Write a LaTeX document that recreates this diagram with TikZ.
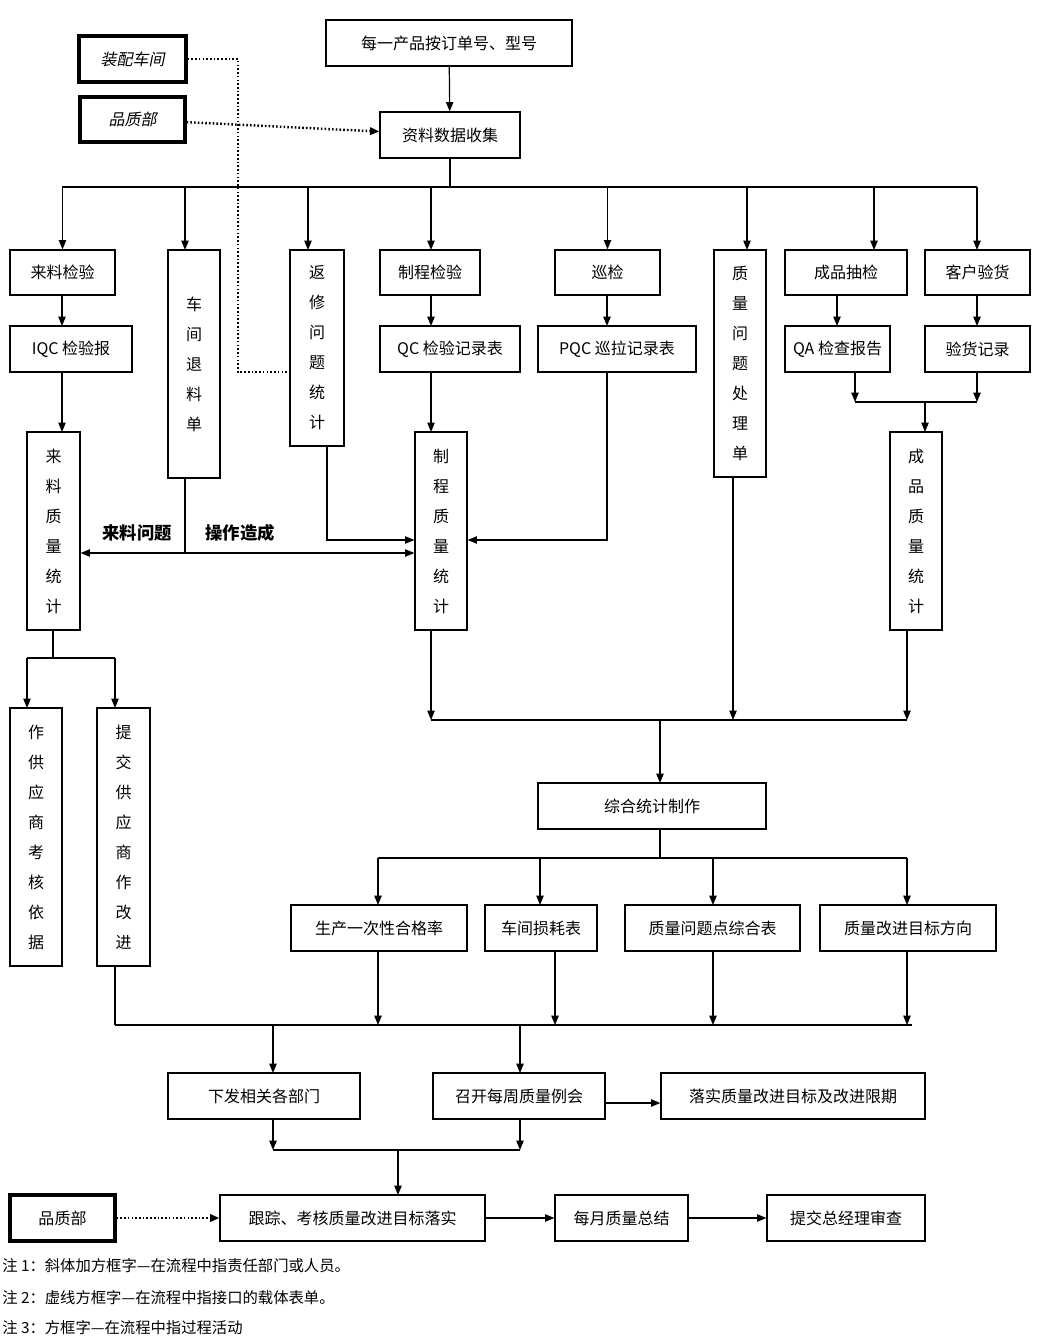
\documentclass[tikz,border=0pt]{standalone}
\usepackage{fontspec}
\setmainfont{Noto Sans CJK SC}
\newfontfamily\cjki[FakeSlant=0.2]{Noto Sans CJK SC}
\usetikzlibrary{arrows.meta}
\newcommand\bx[7][]{\node[box,#1,minimum width={(#5-#3)*0.75pt},minimum height={(#6-#4)*0.75pt}] (#2) at ({(#3+#5)/2},{(#4+#6)/2}) {#7};}
\begin{document}
\begin{tikzpicture}[x=0.75pt,y=-0.75pt,
 box/.style={draw,line width=0.9pt,inner sep=0pt,align=center,font=\fontsize{12}{22.5}\selectfont},
 duty/.style={line width=2.4pt,font=\cjki\fontsize{12}{14}\selectfont},
 arr/.style={line width=0.9pt,-{Triangle[length=7pt,width=5.5pt]}},
 ln/.style={line width=0.9pt},
 dot/.style={line width=1.8pt,dash pattern=on 1.2pt off 1.6pt},
 lbl/.style={font=\bfseries\fontsize{13}{15}\selectfont}]
\useasboundingbox (0,0) rectangle (1041,1337);
\bx{top}{326}{20}{572}{66}{每一产品按订单号、型号}
\bx[duty]{zp}{79}{36}{186}{82}{装配车间}
\bx[duty]{pz1}{80}{97}{185}{142}{品质部}
\bx{col}{380}{112}{520}{158}{资料数据收集}
\bx{ll}{10}{250}{115}{295}{来料检验}
\bx{cj}{168}{250}{220}{478}{车\\间\\退\\料\\单}
\bx{fx}{290}{250}{344}{446}{返\\修\\问\\题\\统\\计}
\bx{zc}{380}{250}{480}{295}{制程检验}
\bx{xj}{555}{250}{660}{295}{巡检}
\bx{zl}{714}{250}{766}{477}{质\\量\\问\\题\\处\\理\\单}
\bx{cp}{785}{250}{907}{295}{成品抽检}
\bx{kh}{925}{250}{1030}{295}{客户验货}
\bx{iqc}{10}{326}{132}{372}{IQC 检验报}
\bx{qc}{380}{326}{520}{372}{QC 检验记录表}
\bx{pqc}{538}{326}{696}{372}{PQC 巡拉记录表}
\bx{qa}{785}{326}{890}{372}{QA 检查报告}
\bx{yh}{925}{326}{1030}{372}{验货记录}
\bx{lltj}{27}{432}{80}{630}{来\\料\\质\\量\\统\\计}
\bx{zctj}{415}{432}{467}{630}{制\\程\\质\\量\\统\\计}
\bx{cptj}{890}{432}{942}{630}{成\\品\\质\\量\\统\\计}
\bx{gys}{10}{708}{62}{966}{作\\供\\应\\商\\考\\核\\依\\据}
\bx{tj}{97}{708}{150}{966}{提\\交\\供\\应\\商\\作\\改\\进}
\bx{zh}{538}{783}{766}{829}{综合统计制作}
\bx{sc}{291}{905}{467}{951}{生产一次性合格率}
\bx{sh}{485}{905}{597}{951}{车间损耗表}
\bx{wt}{625}{905}{800}{951}{质量问题点综合表}
\bx{mb}{820}{905}{996}{951}{质量改进目标方向}
\bx{xf}{168}{1073}{360}{1119}{下发相关各部门}
\bx{zk}{433}{1073}{605}{1119}{召开每周质量例会}
\bx{ls}{661}{1073}{925}{1119}{落实质量改进目标及改进限期}
\bx[duty,font=\fontsize{12}{14}\selectfont]{pz2}{10}{1195}{115}{1241}{品质部}
\bx{gz}{220}{1195}{485}{1241}{跟踪、考核质量改进目标落实}
\bx{yd}{555}{1195}{688}{1241}{每月质量总结}
\bx{zj}{767}{1195}{925}{1241}{提交总经理审查}
% top
\draw[arr] (top) -- (col);
\draw[dot,-{Triangle[length=7pt,width=5.5pt]}] (pz1) -- (col);
\draw[dot] (zp.east) -| (238,372) -- (fx.west |- 0,372);
\coordinate (b1) at (0,187);
\draw[ln] (col) -- (col |- b1);
\draw[ln] (62,187) -- (977,187);
\draw[arr] (ll.north |- b1) -- (ll);
\draw[arr] (185,187) -- (185,250);
\draw[arr] (308,187) -- (308,250);
\draw[arr] (431,187) -- (431,250);
\draw[arr] (xj.north |- b1) -- (xj);
\draw[arr] (747,187) -- (747,250);
\draw[arr] (874,187) -- (874,250);
\draw[arr] (977,187) -- (977,250);
\draw[arr] (62,295) -- (62,326);
\draw[arr] (431,295) -- (431,326);
\draw[arr] (607,295) -- (607,326);
\draw[arr] (837,295) -- (837,326);
\draw[arr] (977,295) -- (977,326);
\draw[arr] (62,372) -- (62,432);
\draw[arr] (431,372) -- (431,432);
\draw[arr] (855,372) -- (855,402);
\draw[arr] (977,372) -- (977,402);
\draw[ln] (855,402) -- (977,402);
\draw[arr] (925,402) -- (925,432);
% middle
\draw[ln] (185,478) -- (185,553);
\draw[line width=0.9pt,{Triangle[length=7pt,width=5.5pt]}-{Triangle[length=7pt,width=5.5pt]}] (lltj.east |- 0,553) -- (zctj.west |- 0,553);
\node[lbl] (l1) at (137,533) {来料问题};
\node[lbl] (l2) at (240,533) {操作造成};
\draw[arr] (327,446) |- (zctj.west |- 0,540);
\draw[arr] (607,372) |- (zctj.east |- 0,540);
% left bottom
\draw[ln] (53,630) -- (53,658);
\draw[ln] (27,658) -- (115,658);
\draw[arr] (27,658) -- (27,708);
\draw[arr] (115,658) -- (115,708);
% join
\draw[arr] (431,630) -- (431,720);
\draw[arr] (733,477) -- (733,720);
\draw[arr] (907,630) -- (907,720);
\draw[ln] (431,720) -- (907,720);
\draw[arr] (660,720) -- (660,783);
\draw[ln] (660,829) -- (660,858);
\draw[ln] (378,858) -- (907,858);
\draw[arr] (378,858) -- (378,905);
\draw[arr] (540,858) -- (540,905);
\draw[arr] (713,858) -- (713,905);
\draw[arr] (907,858) -- (907,905);
\draw[ln] (115,1025) -- (912,1025);
\draw[ln] (115,966) -- (115,1025);
\draw[arr] (378,951) -- (378,1025);
\draw[arr] (555,951) -- (555,1025);
\draw[arr] (713,951) -- (713,1025);
\draw[arr] (907,951) -- (907,1025);
\draw[arr] (273,1025) -- (273,1073);
\draw[arr] (520,1025) -- (520,1073);
\draw[arr] (zk.east |- 0,1103) -- (ls.west |- 0,1103);
\draw[arr] (273,1119) -- (273,1150);
\draw[arr] (520,1119) -- (520,1150);
\draw[ln] (273,1150) -- (520,1150);
\draw[arr] (398,1150) -- (398,1195);
\draw[dot,-{Triangle[length=7pt,width=5.5pt]}] (pz2) -- (gz);
\draw[arr] (gz) -- (yd);
\draw[arr] (yd) -- (zj);
% notes
\begin{scope}[every node/.style={anchor=west,font=\fontsize{11.5}{13}\selectfont,inner sep=0pt}]
\node (n1) at (2,1266) {注 1：斜体加方框字—在流程中指责任部门或人员。};
\node (n2) at (2,1298) {注 2：虚线方框字—在流程中指接口的载体表单。};
\node (n3) at (2,1328) {注 3：方框字—在流程中指过程活动};
\end{scope}
\end{tikzpicture}
\end{document}
